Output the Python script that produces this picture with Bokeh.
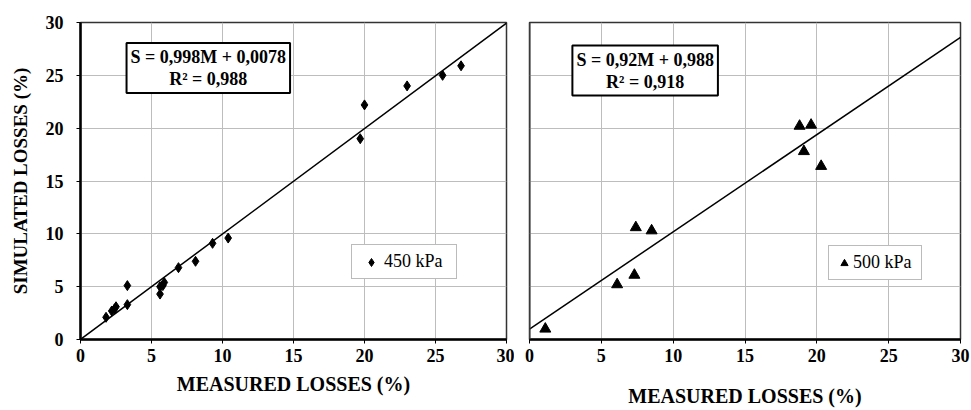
from bokeh.plotting import figure
from bokeh.layouts import row
from bokeh.models import FixedTicker, Label, Legend, LegendItem, Range1d, Span
from bokeh.embed import file_html
from bokeh.resources import INLINE

# ---- data ----
ticks = [0, 5, 10, 15, 20, 25, 30]

m450 = [1.8, 2.2, 2.4, 2.5, 3.3, 3.3, 5.6, 5.6, 5.8, 5.9, 6.9, 8.1, 9.3, 10.4,
        19.7, 20.0, 23.0, 25.5, 26.8]
s450 = [2.1, 2.7, 2.9, 3.1, 5.1, 3.3, 5.0, 4.3, 5.1, 5.4, 6.8, 7.4, 9.1, 9.6,
        19.0, 22.2, 24.0, 25.0, 25.9]

m500 = [1.1, 6.1, 7.3, 7.4, 8.5, 18.8, 19.6, 19.1, 20.3]
s500 = [1.0, 5.2, 6.1, 10.6, 10.3, 20.2, 20.3, 17.8, 16.4]

fit450 = (0.998, 0.0078)
fit500 = (0.92, 0.988)
eq450 = "S = 0,998M + 0,0078\nR² = 0,988"
eq500 = "S = 0,92M + 0,988\nR² = 0,918"
label450 = "450 kPa"
label500 = "500 kPa"
xlabel = "MEASURED LOSSES (%)"
ylabel = "SIMULATED LOSSES (%)"

FONT = "Liberation Serif"


def make_fig(width, mbl, mbr, first):
    p = figure(width=width, height=410, x_range=Range1d(0, 30), y_range=Range1d(0, 30),
               output_backend="svg", toolbar_location=None,
               min_border_left=mbl, min_border_right=mbr,
               min_border_top=22, min_border_bottom=71)
    p.background_fill_color = "white"
    p.border_fill_color = "white"
    p.outline_line_color = "#333333"
    p.outline_line_width = 1.5
    axes = [p.xaxis[0], p.yaxis[0]] if first else [p.xaxis[0]]
    for ax in axes:
        ax.ticker = FixedTicker(ticks=ticks)
        ax.minor_tick_line_color = None
        ax.major_tick_in = 0
        ax.major_tick_out = 4
        ax.major_tick_line_color = "black"
        ax.major_label_text_font = FONT
        ax.major_label_text_font_style = "bold"
        ax.major_label_text_font_size = "18px"
        ax.major_label_text_color = "black"
        ax.axis_label_text_font = FONT
        ax.axis_label_text_font_style = "bold"
        ax.axis_label_text_color = "black"
    p.xaxis.axis_line_width = 2.5
    p.xaxis.axis_line_color = "black"
    p.xaxis.major_label_standoff = 5
    p.xaxis.axis_label = xlabel
    p.xaxis.axis_label_text_font_size = "20px"
    if first:
        p.yaxis.axis_line_width = 2.5
        p.yaxis.axis_line_color = "black"
        p.yaxis.major_label_standoff = 13
        p.yaxis.axis_label = ylabel
        p.yaxis.axis_label_text_font_size = "19px"
        p.yaxis.axis_label_standoff = 12
        p.xaxis.axis_label_standoff = 8
    else:
        p.yaxis.visible = False
        p.add_layout(Span(location=0, dimension="height", line_color="#444444", line_width=2))
        p.xaxis.axis_label_standoff = 20
    p.xgrid.ticker = FixedTicker(ticks=ticks)
    p.ygrid.ticker = FixedTicker(ticks=ticks)
    p.grid.grid_line_color = "#bdbdbd"
    p.grid.grid_line_width = 1
    return p


def add_fit(p, fit):
    xs = [0, 30]
    ys = [fit[0] * x + fit[1] for x in xs]
    p.line(xs, ys, line_color="black", line_width=1.5)


def add_eq(p, text, x, y):
    p.add_layout(Label(x=x, y=y, text=text, text_align="center", text_baseline="middle",
                       text_font=FONT, text_font_style="bold", text_font_size="18px",
                       text_color="black", text_line_height=1.1,
                       background_fill_color="white", border_line_color="black",
                       border_line_width=2, padding=4))


def add_legend(p, r, label, loc, gw, lw):
    lg = Legend(items=[LegendItem(label=label, renderers=[r])], location=loc,
                label_text_font=FONT, label_text_font_size="18px", label_text_color="black",
                glyph_width=gw, glyph_height=20, label_standoff=0, label_width=lw,
                padding=6, margin=0, spacing=0,
                border_line_color="#777777", border_line_width=1,
                background_fill_color="white", background_fill_alpha=1)
    p.add_layout(lg)


p1 = make_fig(514, 80, 8, True)
add_fit(p1, fit450)
r1 = p1.scatter(m450, s450, marker="diamond", size=10, color="black")
add_eq(p1, eq450, 9.0, 25.7)
add_legend(p1, r1, label450, (271, 60), 26, 66)

p2 = make_fig(457, 15, 11, False)
add_fit(p2, fit500)
r2 = p2.scatter(m500, s500, marker="triangle", size=11, color="black")
add_eq(p2, eq500, 8.05, 25.45)
add_legend(p2, r2, label500, (299, 59), 18, 62)

layout = row(p1, p2)
open("out.html", "w").write(file_html(layout, INLINE))
